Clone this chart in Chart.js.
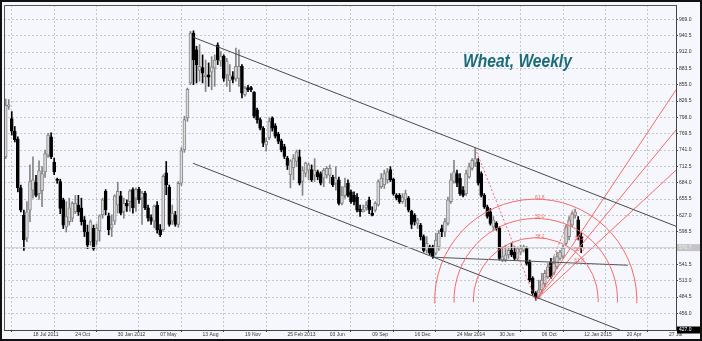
<!DOCTYPE html>
<html>
<head>
<meta charset="utf-8">
<script src="https://cdn.jsdelivr.net/npm/chart.js@4.4.0/dist/chart.umd.min.js"></script>
<style>
  html, body { margin: 0; padding: 0; background: #fff; }
  #wrap { width: 702px; height: 341px; }
</style>
</head>
<body>
<div id="wrap"><canvas id="grafico" width="702" height="341"></canvas></div>
<script>
// weekly candles, first one = 16 May 2011, index = week number
const open = [729,817,796,774,760,675,627,587,636,671,685,665,670,703,732,764,720,690,686,654,
  607,616,622,633,645,640,619,598,581,605,582,600,628,669,626,605,617,645,661,634,
  648,651,672,657,673,657,666,640,623,617,645,602,602,701,676,617,628,611,683,741,
  797,858,945,916,880,885,869,872,877,884,924,896,905,872,862,869,866,866,887,837,
  850,850,842,811,794,779,750,762,797,783,769,757,747,727,698,710,721,729,686,700,
  706,707,697,703,700,692,697,697,694,683,689,648,662,683,668,662,659,638,633,640,
  654,631,636,645,677,680,689,707,690,662,662,651,654,657,634,627,613,610,590,566,
  572,572,561,572,604,598,613,651,686,700,692,671,665,694,709,718,720,700,662,642,
  633,607,613,605,549,549,558,566,563,552,563,566,569,546,517,491,485,497,508,520,
  546,526,537,552,556,578,590,610,627,619,590];
const high = [830,829,808,782,764,680,636,651,715,729,697,722,712,741,770,771,727,692,690,657,
  651,657,651,662,662,657,625,610,619,610,612,628,657,672,631,628,663,685,669,657,
  654,672,675,675,676,669,669,645,628,645,651,611,698,721,680,645,634,686,745,800,
  849,948,949,922,925,907,898,893,904,907,928,913,907,901,890,878,919,916,890,852,
  854,852,843,814,797,782,762,797,799,787,772,760,751,730,724,733,741,741,712,720,
  718,715,726,706,703,709,712,715,697,712,694,677,692,689,671,668,665,645,645,651,
  659,642,651,689,700,706,709,712,692,665,665,665,671,660,636,630,622,613,593,590,
  575,575,596,601,610,622,659,700,723,706,700,677,706,718,726,744,726,703,665,645,
  639,625,616,607,572,575,572,578,572,572,575,575,572,549,520,494,514,526,531,543,
  552,555,563,566,575,610,625,633,638,625,596];
const low = [726,812,767,755,668,633,566,581,616,657,659,655,642,693,728,726,698,683,630,604,
  598,610,616,630,627,610,590,569,575,566,576,582,622,628,593,590,611,631,628,622,
  634,634,631,634,648,611,637,617,611,605,596,590,599,663,608,611,608,606,679,737,
  791,855,855,858,861,858,843,852,846,852,890,887,861,852,843,858,861,852,832,835,
  843,843,797,788,776,747,739,759,774,762,752,738,726,707,675,689,712,680,662,694,
  689,686,686,689,680,677,692,683,677,671,645,645,657,659,648,645,633,625,633,636,
  630,626,633,643,674,674,683,686,662,654,648,648,642,633,604,610,604,584,563,561,
  558,552,558,566,590,590,610,648,683,677,662,659,662,692,706,712,680,659,639,622,
  610,601,601,549,546,546,552,555,549,549,558,563,540,511,488,479,482,491,502,517,
  517,523,534,549,552,575,584,607,622,584,562];
const close = [819,820,774,759,675,636,584,633,686,689,662,705,700,735,767,729,703,688,639,610,
  625,640,648,648,633,616,598,575,616,569,605,626,654,637,602,611,661,669,631,648,
  643,670,640,672,654,666,640,622,617,643,602,593,695,680,611,631,611,683,740,794,
  847,945,898,890,887,875,872,868,886,898,898,905,866,896,872,864,887,887,840,849,
  846,846,800,794,779,753,756,791,779,765,756,741,730,714,722,727,738,683,706,718,
  715,689,706,694,683,706,709,709,680,692,648,662,677,662,651,651,636,633,637,645,
  636,627,648,686,692,700,703,689,665,657,651,659,665,636,611,616,619,590,566,578,
  561,555,584,596,598,616,654,689,703,683,665,662,700,712,723,726,683,662,642,625,
  613,619,604,552,555,558,566,558,552,569,569,572,543,514,491,485,497,514,526,537,
  520,543,555,563,570,607,619,630,633,590,570.7];

// date axis: one label every 14 weeks, starting at week 9 (18 Jul 2011)
const dateWeeks = [9,23,37,51,65,79,93,107,121,135,149,163,177,191,205,219];
const dateLabels = ['18 Jul 2011','24 Oct','30 Jan 2012','07 May','13 Aug','19 Nov','25 Feb 2013','03 Jun',
  '09 Sep','16 Dec','24 Mar 2014','30 Jun','06 Oct','12 Jan 2015','20 Apr','27 Jul'];
const priceTicks = [456,484.5,513,541.5,570,598.5,627,655.5,684,712.5,741,769.5,798,826.5,855,883.5,912,940.5,969];

// drawn objects, [week, price]
const channelTop = [[61.8,938],[221.3,608]];
const channelBottom = [[61.8,718],[202.8,427]];
const supportLine = [[141.1,554],[205.4,540]];
const fibHigh = [155,744];
const fibLow = [175,479];
const fanTop = [187.4,638];
const fibLevels = [38.2,50.0,61.8];
const lastPrice = 570.7;
const axisMin = 427;

const FONT = '"Liberation Sans", Arial, sans-serif';
const RED = '#f26b6b';

const bodyData = open.map((o, i) => ({x: i, y: [Math.min(o, close[i]), Math.max(o, close[i])]}));
const wickData = open.map((o, i) => ({x: i, y: [low[i], high[i]]}));
const isUp = open.map((o, i) => close[i] >= o);

function seg(pts, color, dash) {
    return {
        type: 'line',
        data: pts.map(p => ({x: p[0], y: p[1]})),
        borderColor: color,
        borderWidth: 1,
        borderDash: dash || [],
        pointRadius: 0,
        fill: false,
        tension: 0,
        order: 0,
    };
}

// fan lines: from the low through the retracements at fanTop, out to the right edge
const xMax = 221.3;
const fanLines = fibLevels.map(lv => {
    const p = fanTop[1] - lv / 100 * (fanTop[1] - fibLow[1]);
    const slope = (p - fibLow[1]) / (fanTop[0] - fibLow[0]);
    return seg([fibLow, [xMax, fibLow[1] + slope * (xMax - fibLow[0])]], RED);
});

const overlay = {
    id: 'overlay',
    beforeDraw(chart) {
        const c = chart.ctx;
        c.save();
        c.fillStyle = '#f6f7fc';
        c.fillRect(0, 0, chart.width, chart.height);
        c.restore();
    },
    afterDatasetsDraw(chart) {
        const c = chart.ctx, xs = chart.scales.x, ys = chart.scales.y, a = chart.chartArea;
        c.save();
        c.beginPath();
        c.rect(a.left, a.top, a.right - a.left, a.bottom - a.top);
        c.clip();

        // last price line
        const yl = ys.getPixelForValue(lastPrice);
        c.strokeStyle = '#cfcfd4';
        c.lineWidth = 1;
        c.beginPath();
        c.moveTo(a.left, yl);
        c.lineTo(a.right, yl);
        c.stroke();

        // fibonacci arcs
        const cx = xs.getPixelForValue(fibLow[0]), cy = ys.getPixelForValue(fibLow[1]);
        const hx = xs.getPixelForValue(fibHigh[0]), hy = ys.getPixelForValue(fibHigh[1]);
        const d = Math.hypot(hx - cx, hy - cy);
        c.strokeStyle = RED;
        c.fillStyle = RED;
        c.font = '5px ' + FONT;
        c.textAlign = 'center';
        c.textBaseline = 'bottom';
        fibLevels.forEach(lv => {
            const r = d * lv / 100;
            c.beginPath();
            c.arc(cx, cy, r, Math.PI - 0.03, 2 * Math.PI + 0.03);
            c.stroke();
            c.fillText(lv.toFixed(1), cx + 4, cy - r + 1);
        });

        // fan labels
        const bx = xs.getPixelForValue(fanTop[0]);
        c.textAlign = 'left';
        c.textBaseline = 'middle';
        fibLevels.forEach(lv => {
            const p = fanTop[1] - lv / 100 * (fanTop[1] - fibLow[1]);
            c.fillText(lv.toFixed(1), bx + 1, ys.getPixelForValue(p) - 5);
        });
        c.restore();

        // plot frame left/top
        c.save();
        c.strokeStyle = '#555';
        c.lineWidth = 1;
        c.beginPath();
        c.moveTo(a.left + 0.5, a.bottom);
        c.lineTo(a.left + 0.5, a.top + 0.5);
        c.lineTo(a.right, a.top + 0.5);
        c.stroke();

        // price boxes on the axis
        c.font = '5px ' + FONT;
        c.textAlign = 'left';
        c.textBaseline = 'middle';
        c.fillStyle = '#c4c4c6';
        c.fillRect(a.right + 1, yl - 3.5, 25, 7);
        c.fillStyle = '#f2f2f2';
        c.fillText(lastPrice.toFixed(1), a.right + 3, yl);
        const yb = ys.getPixelForValue(axisMin);
        c.fillStyle = '#000';
        c.fillRect(a.right + 1, yb - 3.5, 24, 7);
        c.fillStyle = '#fff';
        c.fillText(axisMin.toFixed(1), a.right + 3, yb);

        // title, a bit condensed like the original
        c.save();
        c.translate(463, 67);
        c.scale(0.82, 1);
        c.font = 'bold italic 19px ' + FONT;
        c.fillStyle = '#1c6b79';
        c.textAlign = 'left';
        c.textBaseline = 'alphabetic';
        c.fillText('Wheat, Weekly', 0, 0);
        c.restore();

        // outer frame
        c.strokeStyle = '#111';
        c.lineWidth = 2;
        c.strokeRect(1, 1, chart.width - 2, chart.height - 2);
        c.restore();
    }
};

const chart = new Chart(document.getElementById('grafico'), {
    type: 'bar',
    data: {
        datasets: [
            {
                data: wickData,
                barThickness: 1,
                grouped: false,
                backgroundColor: isUp.map(u => u ? '#858585' : '#000'),
                order: 3,
            },
            {
                data: bodyData,
                barThickness: 3,
                grouped: false,
                backgroundColor: isUp.map(u => u ? '#dcdcde' : '#000'),
                borderColor: isUp.map(u => u ? '#858585' : '#000'),
                borderWidth: 1,
                borderSkipped: false,
                order: 2,
            },
            seg(channelTop, '#4a4a4a'),
            seg(channelBottom, '#4a4a4a'),
            seg(supportLine, '#555'),
            seg([fibHigh, fibLow], RED, [2, 2]),
            seg([fibLow, fanTop], RED, [2, 2]),
            ...fanLines,
        ],
    },
    options: {
        responsive: false,
        animation: false,
        devicePixelRatio: 1,
        layout: {padding: {left: 4, top: 5, right: 0, bottom: 0}},
        plugins: {legend: {display: false}, tooltip: {enabled: false}},
        scales: {
            x: {
                type: 'linear',
                min: -0.56,
                max: xMax,
                offset: false,
                afterBuildTicks: s => { s.ticks = dateWeeks.map(v => ({value: v})); },
                afterFit: s => { s.height = 11; },
                ticks: {
                    autoSkip: false,
                    maxRotation: 0,
                    align: 'start',
                    padding: 0,
                    color: '#333',
                    font: {size: 5, family: FONT},
                    callback: (v, i) => dateLabels[i],
                },
                grid: {color: '#c6c8d0', tickLength: 2, tickColor: '#444'},
                border: {display: true, color: '#444', dash: [2, 2]},
            },
            y: {
                position: 'right',
                min: axisMin,
                max: 994,
                afterBuildTicks: s => { s.ticks = priceTicks.map(v => ({value: v})); },
                afterFit: s => { s.width = 26; },
                ticks: {
                    padding: 1,
                    color: '#333',
                    font: {size: 5, family: FONT},
                    callback: v => v.toFixed(1),
                },
                grid: {color: '#c6c8d0', tickLength: 2, tickColor: '#444'},
                border: {display: true, color: '#444', dash: [2, 2]},
            },
        },
    },
    plugins: [overlay],
});
</script>
</body>
</html>
